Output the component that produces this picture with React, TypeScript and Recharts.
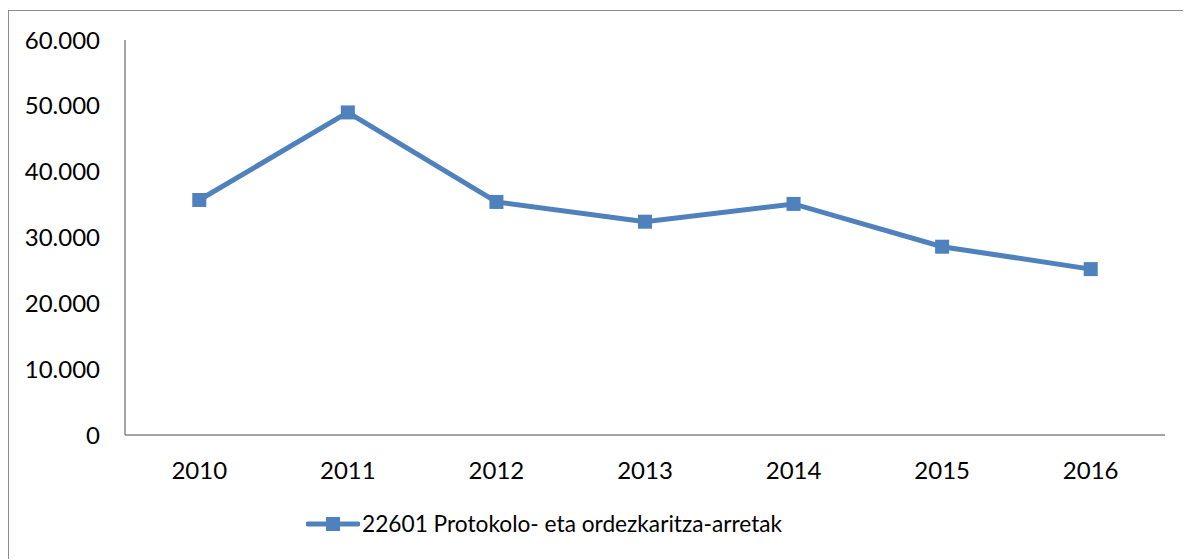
import React from 'react';
import { LineChart, Line, XAxis, YAxis, Legend } from 'recharts';

const years = ['2010', '2011', '2012', '2013', '2014', '2015', '2016'];
const values = [35700, 49000, 35400, 32400, 35100, 28600, 25200];
const yTicks = [0, 10000, 20000, 30000, 40000, 50000, 60000];
const seriesName = '22601 Protokolo- eta ordezkaritza-arretak';

const data = years.map((y, i) => ({ year: y, value: values[i] }));

const COLOR = '#4F81BD';
const FONT = 'Lato, "Liberation Sans", Arial, sans-serif';

const fmt = (v: number) => (v === 0 ? '0' : v.toLocaleString('de-DE'));

const SquareDot = (props: any) => {
  const { cx, cy } = props;
  if (cx == null || cy == null) return null;
  return <rect x={cx - 7} y={cy - 7} width={14} height={14} fill={COLOR} />;
};

const LegendContent = () => (
  <div style={{ display: 'flex', alignItems: 'center', fontFamily: FONT, fontSize: 22.7, color: '#000' }}>
    <svg width={54} height={16} style={{ display: 'block' }}>
      <line x1={2} y1={8} x2={52} y2={8} stroke={COLOR} strokeWidth={5} strokeLinecap="round" />
      <rect x={20} y={1} width={14} height={14} fill={COLOR} />
    </svg>
    <span style={{ marginLeft: 2 }}>{seriesName}</span>
  </div>
);

export default function App() {
  return (
    <div
      style={{
        position: 'relative',
        top: 2,
        width: 1183,
        height: 550,
        borderTop: '1px solid #8c8c8c',
        borderLeft: '1px solid #8c8c8c',
        background: '#fff',
      }}
    >
      <LineChart width={1182} height={549} data={data} margin={{ top: 29, right: 26, left: 0, bottom: 85 }}>
        <XAxis
          dataKey="year"
          scale="band"
          axisLine={{ stroke: '#868686', strokeWidth: 1.5 }}
          tickLine={false}
          tickSize={0}
          tickMargin={27}
          tick={{ fill: '#000', fontSize: 24, fontFamily: FONT }}
          interval={0}
          height={40}
        />
        <YAxis
          domain={[0, 60000]}
          ticks={yTicks}
          width={116}
          axisLine={{ stroke: '#868686', strokeWidth: 1.5 }}
          tickLine={false}
          tickSize={0}
          tickMargin={25}
          tickFormatter={fmt}
          tick={{ fill: '#000', fontSize: 24, fontFamily: FONT }}
        />
        <Line
          type="linear"
          dataKey="value"
          name={seriesName}
          stroke={COLOR}
          strokeWidth={5}
          dot={<SquareDot />}
          activeDot={false}
          isAnimationActive={false}
        />
        <Legend
          layout="horizontal"
          verticalAlign="middle"
          align="center"
          content={<LegendContent />}
          wrapperStyle={{ position: 'absolute', left: 297, top: 499, width: 'auto' }}
        />
      </LineChart>
    </div>
  );
}
